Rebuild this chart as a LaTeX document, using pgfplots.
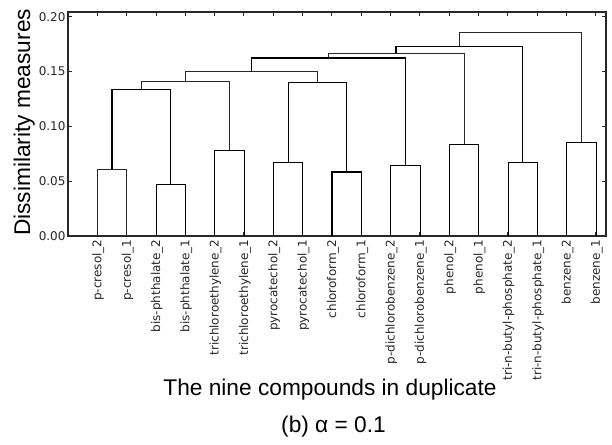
\documentclass[border=0pt]{standalone}
\usepackage{pgfplots}
\pgfplotsset{compat=1.18}
\usepackage{fontspec}
\setmainfont{Liberation Sans}
\newfontfamily\dejavu{DejaVu Sans}
\definecolor{linec}{RGB}{40,40,40}
\begin{document}
\begin{tikzpicture}
\useasboundingbox (0,0) rectangle (612bp,445bp);
\begin{axis}[
  at={(68bp,209bp)}, anchor=south west,
  scale only axis, width=538bp, height=224bp,
  xmin=0, xmax=18.35, ymin=0, ymax=0.2043,
  xtick={1,...,18},
  xticklabels={p-cresol\_2,p-cresol\_1,bis-phthalate\_2,bis-phthalate\_1,trichloroethylene\_2,trichloroethylene\_1,pyrocatechol\_2,pyrocatechol\_1,chloroform\_2,chloroform\_1,p-dichlorobenzene\_2,p-dichlorobenzene\_1,phenol\_2,phenol\_1,tri-n-butyl-phosphate\_2,tri-n-butyl-phosphate\_1,benzene\_2,benzene\_1},
  ytick={0,0.05,0.10,0.15,0.20},
  yticklabel style={font=\dejavu\fontsize{12bp}{14bp}\selectfont, text=black!85, xshift=1bp},
  yticklabel style={/pgf/number format/fixed, /pgf/number format/fixed zerofill, /pgf/number format/precision=2, /pgf/number format/assume math mode=true},
  xticklabel style={rotate=90, anchor=east, font=\dejavu\fontsize{12bp}{14bp}\selectfont, text=black!85, yshift=-1bp},
  tick pos=both, tick align=inside, major tick length=4bp,
  tick style={linec, line width=0.9bp},
  axis line style={linec, line width=1.1bp},
  xlabel={The nine compounds in duplicate},
  ylabel={Dissimilarity measures},
  xlabel style={at={(axis description cs:0.487,-0.71)}, anchor=base, font=\fontsize{22.7bp}{27bp}\selectfont},
  ylabel style={at={(axis description cs:-0.0706,0.507)}, anchor=base, rotate=0, font=\fontsize{22.7bp}{27bp}\selectfont},
  cycle list={{linec, solid, line width=1.3bp, mark=none}},
]
\addplot coordinates {(1,0) (1,0.0610) (2,0.0610) (2,0)};
\addplot coordinates {(3,0) (3,0.0476) (4,0.0476) (4,0)};
\addplot coordinates {(1.5,0.0610) (1.5,0.1333) (3.5,0.1333) (3.5,0.0476)};
\addplot coordinates {(5,0) (5,0.0786) (6,0.0786) (6,0)};
\addplot coordinates {(2.5,0.1333) (2.5,0.1412) (5.5,0.1412) (5.5,0.0786)};
\addplot coordinates {(7,0) (7,0.0671) (8,0.0671) (8,0)};
\addplot coordinates {(9,0) (9,0.0583) (10,0.0583) (10,0)};
\addplot coordinates {(7.5,0.0671) (7.5,0.1406) (9.5,0.1406) (9.5,0.0583)};
\addplot coordinates {(4,0.1412) (4,0.1500) (8.5,0.1500) (8.5,0.1406)};
\addplot coordinates {(11,0) (11,0.0647) (12,0.0647) (12,0)};
\addplot coordinates {(6.25,0.1500) (6.25,0.1624) (11.5,0.1624) (11.5,0.0647)};
\addplot coordinates {(13,0) (13,0.0838) (14,0.0838) (14,0)};
\addplot coordinates {(8.875,0.1624) (8.875,0.1670) (13.5,0.1670) (13.5,0.0838)};
\addplot coordinates {(15,0) (15,0.0671) (16,0.0671) (16,0)};
\addplot coordinates {(11.1875,0.1670) (11.1875,0.1730) (15.5,0.1730) (15.5,0.0671)};
\addplot coordinates {(17,0) (17,0.0853) (18,0.0853) (18,0)};
\addplot coordinates {(13.34375,0.1730) (13.34375,0.1861) (17.5,0.1861) (17.5,0.0853)};
\end{axis}
\node[anchor=base, font=\fontsize{22.7bp}{27bp}\selectfont] at (333.5bp,13bp) {(b) α = 0.1};
\end{tikzpicture}
\end{document}
